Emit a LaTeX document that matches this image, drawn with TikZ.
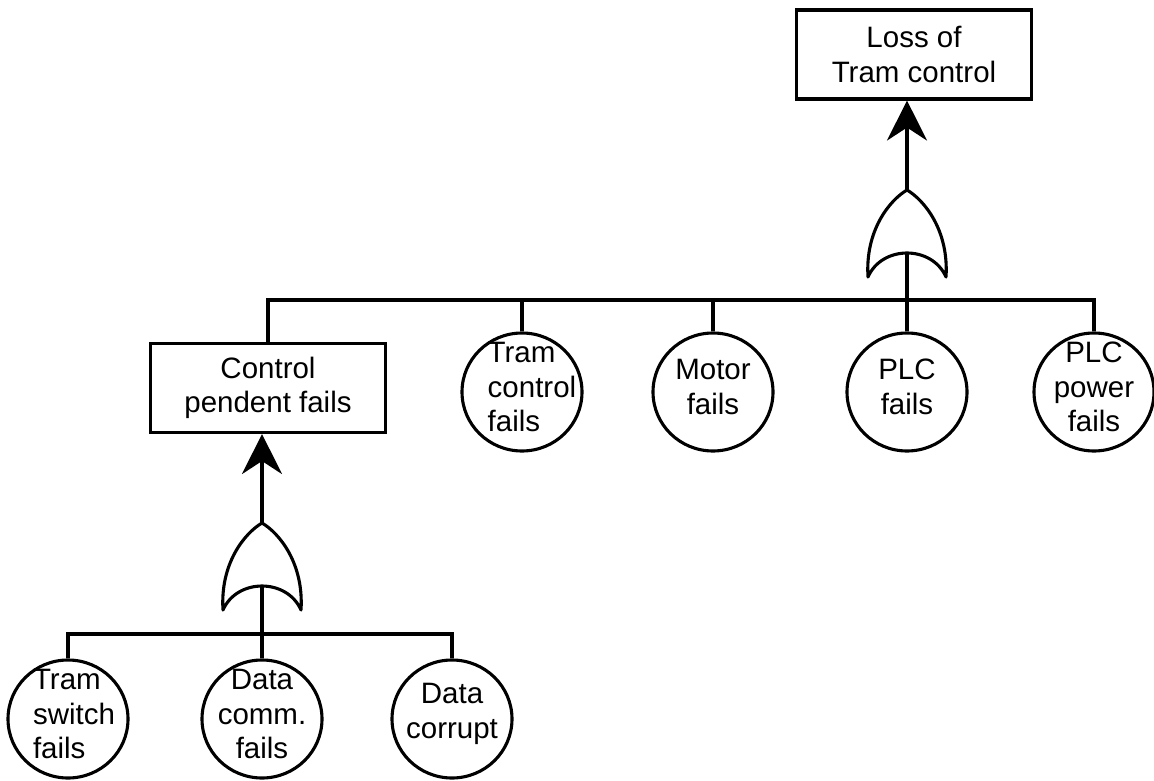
\documentclass[tikz,border=0pt]{standalone}
\usepackage{fontspec}
\setmainfont{Liberation Sans}
\usetikzlibrary{arrows.meta,shapes.geometric}
\begin{document}
\begin{tikzpicture}[x=1pt,y=-1pt,
  every node/.style={font=\fontsize{29.5}{34.5}\selectfont},
  line/.style={line width=3.1pt},
  evbox/.style={draw,line width=3.1pt,rectangle,minimum width=235pt,minimum height=89pt,inner sep=0pt,align=center},
  basic/.style={draw,line width=3.1pt,ellipse,minimum width=120pt,minimum height=118pt,inner sep=0pt},
  evtext/.style={align=center,inner sep=0pt,yshift=5pt},
  evtextl/.style={align=left,inner sep=0pt,yshift=5pt},
  flow/.style={line width=3.1pt,-{Stealth[length=40pt,width=40pt,inset=13pt]}},
  orgate/.pic={
    \draw[line width=3.1pt,fill=white,line join=round]
      (-39,87) .. controls (-42,40) and (-17,10) .. (0,0)
      .. controls (17,10) and (42,40) .. (39,87)
      .. controls (25,55) and (-25,55) .. (-39,87) -- cycle;
    \coordinate (-top) at (0,0);
    \coordinate (-in) at (0,63);
  }
]
\useasboundingbox (0,0) rectangle (1154,781);

% top event and its OR gate
\node[evbox] (top) at (914,54.5) {Loss of\\Tram control};
\pic (ga) at (907,190) {orgate};
\draw[flow] (ga-top) -- (ga-top |- top.south);
\coordinate (busA) at (907,300);

% inputs of the top gate
\node[evbox] (cp) at (268,388) {Control\\pendent fails};
\node[basic] (tc) at (522,392) {};
\node[basic] (mo) at (713,392) {};
\node[basic] (pl) at (907,392) {};
\node[basic] (pp) at (1094,392) {};
\node[evtextl,xshift=10pt] (tct) at (tc) {Tram\\control\\fails};
\node[evtext] (mot) at (mo) {Motor\\fails};
\node[evtext] (plt) at (pl) {PLC\\fails};
\node[evtext] (ppt) at (pp) {PLC\\power\\fails};

\draw[line] (cp.north) -- (cp.north |- busA) -- (pp.north |- busA) -- (pp.north);
\foreach \n in {tc,mo} \draw[line] (\n.north) -- (\n.north |- busA);
\draw[line] (ga-in) -- (pl.north);

% control pendent sub-tree
\pic (gb) at (262,523) {orgate};
\draw[flow] (gb-top) -- (gb-top |- cp.south);
\coordinate (busB) at (262,634);

\node[basic] (ts) at (68,719) {};
\node[basic] (dc) at (262,719) {};
\node[basic] (dr) at (452,719) {};
\node[evtextl,xshift=6pt] (tst) at (ts) {Tram\\switch\\fails};
\node[evtext] (dct) at (dc) {Data\\comm.\\fails};
\node[evtext] (drt) at (dr) {Data\\corrupt};

\draw[line] (ts.north) -- (ts.north |- busB) -- (dr.north |- busB) -- (dr.north);
\draw[line] (gb-in) -- (dc.north);
\end{tikzpicture}
\end{document}
